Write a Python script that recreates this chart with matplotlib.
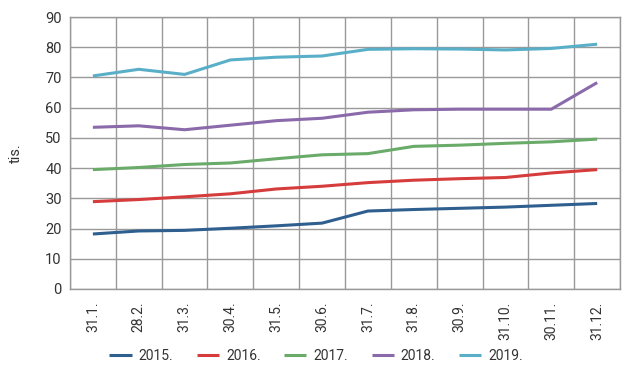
import matplotlib
matplotlib.use("Agg")
import matplotlib.pyplot as plt
import numpy as np

plt.rcParams['font.family'] = ['Roboto', 'DejaVu Sans']

categories = ["31.1.", "28.2.", "31.3.", "30.4.", "31.5.", "30.6.", "31.7.", "31.8.", "30.9.", "31.10.", "30.11.", "31.12."]
s2015 = [18.2, 19.2, 19.4, 20.1, 20.9, 21.8, 25.8, 26.3, 26.7, 27.1, 27.7, 28.3]
s2016 = [28.9, 29.6, 30.5, 31.5, 33.1, 34.0, 35.2, 36.0, 36.5, 36.9, 38.4, 39.5]
s2017 = [39.5, 40.2, 41.2, 41.7, 43.1, 44.4, 44.8, 47.2, 47.6, 48.2, 48.7, 49.6]
s2018 = [53.5, 54.0, 52.7, 54.2, 55.7, 56.5, 58.5, 59.3, 59.5, 59.5, 59.5, 68.3]
s2019 = [70.5, 72.7, 71.0, 75.8, 76.7, 77.1, 79.3, 79.5, 79.4, 79.1, 79.6, 81.0]
series_names = ["2015.", "2016.", "2017.", "2018.", "2019."]
colors = ["#2f5f8f", "#d63c3c", "#6aab6a", "#8a6aaa", "#5aafc8"]

fig = plt.figure(figsize=(6.36, 3.84), dpi=100)
ax = fig.add_axes([0.110, 0.2474, 0.865, 0.7083])

x = np.arange(len(categories))
for name, vals, c in zip(series_names, [s2015, s2016, s2017, s2018, s2019], colors):
    ax.plot(x, vals, color=c, lw=2.2, label=name, solid_capstyle='butt')

ax.set_xlim(-0.5, len(categories) - 0.5)
ax.set_ylim(0, 90)
ax.set_yticks(np.arange(0, 91, 10))
ax.set_xticks(x)
ax.set_xticklabels(categories, rotation=90, fontsize=10, color="#333333")
ax.set_xticks(np.arange(-0.5, len(categories), 1), minor=True)
ax.tick_params(axis='x', which='major', length=0, pad=9)
ax.tick_params(axis='x', which='minor', length=0)
ax.tick_params(axis='y', length=0, labelsize=10.5, labelcolor="#333333", pad=6)
ax.grid(True, which='minor', axis='x', color="#999999", lw=1.0)
ax.grid(True, which='major', axis='y', color="#999999", lw=1.0)
ax.set_axisbelow(True)
for s in ax.spines.values():
    s.set_color("#999999")
    s.set_linewidth(1.0)

ax.set_ylabel("tis.", fontsize=10.5, color="#333333", labelpad=16)

fig.legend(loc='center', bbox_to_anchor=(0.497, 0.073), ncol=5, frameon=False,
           fontsize=10, handlelength=1.6, columnspacing=1.7, handletextpad=0.5,
           labelcolor="#333333")

fig.savefig("out.png", dpi=100)
